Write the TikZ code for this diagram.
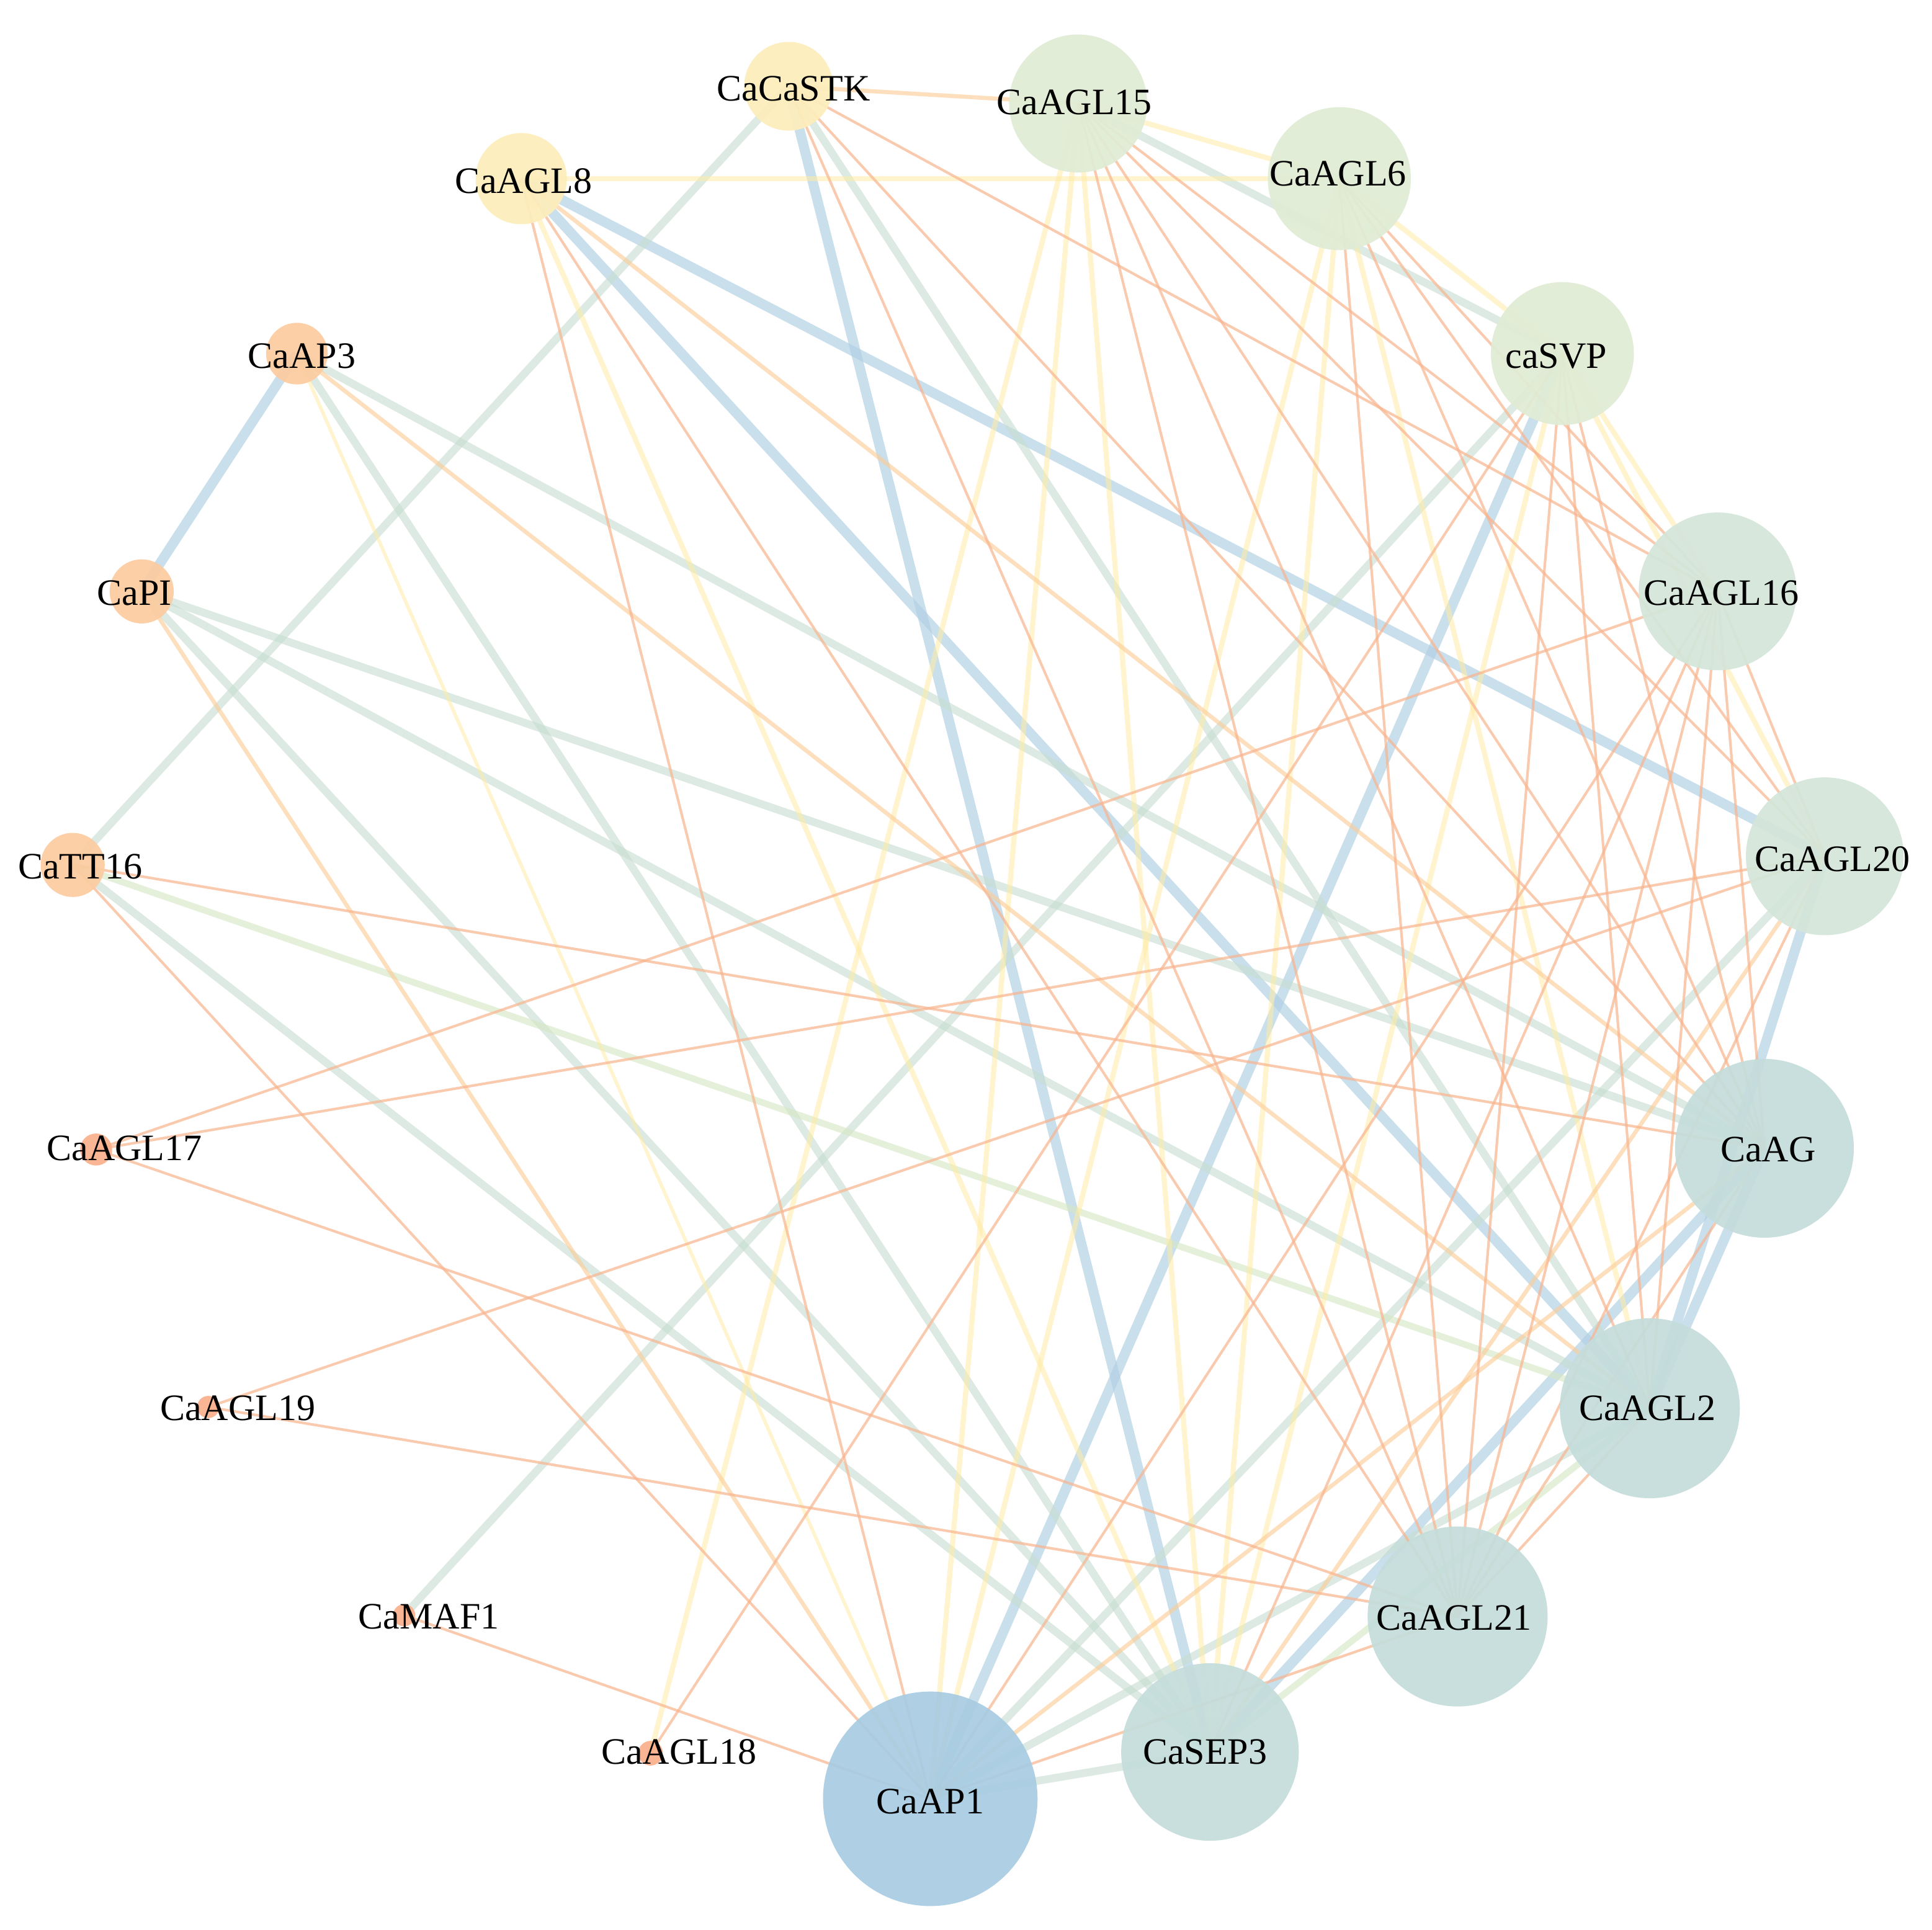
\documentclass[tikz,border=0pt]{standalone}
\usepackage{fontspec}
\setmainfont{Liberation Serif}
\usetikzlibrary{backgrounds}
\definecolor{cBlueE}{RGB}{176,208,228}
\definecolor{cGreenE}{RGB}{200,222,210}
\definecolor{cLGreenE}{RGB}{214,231,196}
\definecolor{cYelE}{RGB}{255,236,165}
\definecolor{cLOrE}{RGB}{252,204,150}
\definecolor{cOrE}{RGB}{249,180,142}
\definecolor{nYel}{RGB}{253,237,187}
\definecolor{nPeach}{RGB}{252,204,160}
\definecolor{nOrange}{RGB}{249,176,140}
\definecolor{nLGreen}{RGB}{224,236,213}
\definecolor{nMGreen}{RGB}{212,230,218}
\definecolor{nTeal}{RGB}{196,221,219}
\definecolor{nBlue}{RGB}{168,204,226}
\begin{document}
\begin{tikzpicture}[x=0.01cm,y=-0.01cm,
  gn/.style={circle,draw=none,inner sep=0pt,fill opacity=0.93},
  lb/.style={inner sep=0pt,font=\fontsize{8.6}{10}\selectfont,text height=5.7pt,text depth=0pt},
  eB/.style={draw=cBlueE,line width=2.3pt,opacity=0.68},
  eG/.style={draw=cGreenE,line width=1.8pt,opacity=0.62},
  eL/.style={draw=cLGreenE,line width=1.5pt,opacity=0.62},
  eY/.style={draw=cYelE,line width=1.2pt,opacity=0.55},
  eO/.style={draw=cLOrE,line width=0.95pt,opacity=0.62},
  eT/.style={draw=cOrE,line width=0.6pt,opacity=0.7}]
\useasboundingbox (0,0) rectangle (1568,1566);
% nodes
\node[gn,fill=nYel,minimum size=0.72cm] (stk) at (640,70) {};
\node[gn,fill=nLGreen,minimum size=1.12cm] (a15) at (875,84) {};
\node[gn,fill=nYel,minimum size=0.74cm] (a8) at (423,145) {};
\node[gn,fill=nLGreen,minimum size=1.16cm] (a6) at (1087,145) {};
\node[gn,fill=nLGreen,minimum size=1.16cm] (svp) at (1268,287) {};
\node[gn,fill=nMGreen,minimum size=1.28cm] (a16) at (1394,480) {};
\node[gn,fill=nMGreen,minimum size=1.28cm] (a20) at (1481,695) {};
\node[gn,fill=nTeal,minimum size=1.45cm] (ag) at (1432,932) {};
\node[gn,fill=nTeal,minimum size=1.46cm] (a2) at (1339,1143) {};
\node[gn,fill=nTeal,minimum size=1.46cm] (a21) at (1183,1312) {};
\node[gn,fill=nTeal,minimum size=1.44cm] (sep3) at (982,1422) {};
\node[gn,fill=nBlue,minimum size=1.74cm] (ap1) at (755,1460) {};
\node[gn,fill=nOrange,minimum size=0.2cm] (a18) at (528,1423) {};
\node[gn,fill=nOrange,minimum size=0.18cm] (maf1) at (328,1311) {};
\node[gn,fill=nOrange,minimum size=0.18cm] (a19) at (169,1142) {};
\node[gn,fill=nOrange,minimum size=0.26cm] (a17) at (78,933) {};
\node[gn,fill=nPeach,minimum size=0.52cm] (tt16) at (59,702) {};
\node[gn,fill=nPeach,minimum size=0.52cm] (pi) at (115,480) {};
\node[gn,fill=nPeach,minimum size=0.5cm] (ap3) at (241,287) {};
% labels
\node[lb] (stk-l) at (644,72) {CaCaSTK};
\node[lb] (a15-l) at (872,83) {CaAGL15};
\node[lb] (a8-l) at (425,147) {CaAGL8};
\node[lb] (a6-l) at (1086,141) {CaAGL6};
\node[lb] (svp-l) at (1263,289) {caSVP};
\node[lb] (a16-l) at (1397,481) {CaAGL16};
\node[lb] (a20-l) at (1487,697) {CaAGL20};
\node[lb] (ag-l) at (1435,933) {CaAG};
\node[lb] (a2-l) at (1337,1143) {CaAGL2};
\node[lb] (a21-l) at (1180,1313) {CaAGL21};
\node[lb] (sep3-l) at (978,1422) {CaSEP3};
\node[lb] (ap1-l) at (755,1462) {CaAP1};
\node[lb] (a18-l) at (551,1422) {CaAGL18};
\node[lb] (maf1-l) at (348,1312) {CaMAF1};
\node[lb] (a19-l) at (193,1143) {CaAGL19};
\node[lb] (a17-l) at (101,932) {CaAGL17};
\node[lb] (tt16-l) at (65,703) {CaTT16};
\node[lb] (pi-l) at (109,481) {CaPI};
\node[lb] (ap3-l) at (245,289) {CaAP3};
% edges
\begin{pgfonlayer}{background}
\fill[white] (0,0) rectangle (1568,1566);
% blue thick
\foreach \a/\b in {ap3/pi, a8/a20, a8/a2, stk/sep3, svp/ap1, ag/sep3, a20/a2, ag/a2}
  \draw[eB] (\a.center) -- (\b.center);
% green thick
\foreach \a/\b in {ap3/ag, ap3/sep3, pi/ag, pi/a2, pi/sep3, stk/a2, a15/svp, maf1/svp, tt16/sep3, tt16/stk, a20/ap1, a2/ap1, sep3/ap1}
  \draw[eG] (\a.center) -- (\b.center);
% light green
\foreach \a/\b in {tt16/a2, a2/sep3}
  \draw[eL] (\a.center) -- (\b.center);
% yellow
\foreach \a/\b in {a8/a6, a8/sep3, a15/a6, a15/sep3, a15/ap1, a15/a18, a6/ap1, a6/sep3, a6/a2, a6/svp, svp/sep3, svp/a16, svp/a20}
  \draw[eY] (\a.center) -- (\b.center);
\draw[eY,line width=0.8pt] (ap3.center) -- (ap1.center);
% light orange
\foreach \a/\b in {ap3/a2, pi/ap1, a8/ag, ag/ap1, a20/sep3, stk/a15}
  \draw[eO] (\a.center) -- (\b.center);
% thin orange
\foreach \a/\b in {tt16/ag, tt16/ap1, a17/a16, a17/a20, a17/a21, a19/a20, a19/a21, maf1/ap1, a18/svp, a8/a21, a8/ap1, stk/a21, stk/a16, stk/ag, a15/a21, a15/a2, a15/a16, a15/a20, a15/ag, a6/a21, a6/ag, a6/a20, a6/a16, svp/a21, svp/a2, svp/ag, a16/ap1, a16/sep3, a16/a21, a16/a2, a16/ag, a16/a20, a20/a21, ag/a21, a2/a21, a21/ap1}
  \draw[eT] (\a.center) -- (\b.center);
\end{pgfonlayer}
\end{tikzpicture}
\end{document}
